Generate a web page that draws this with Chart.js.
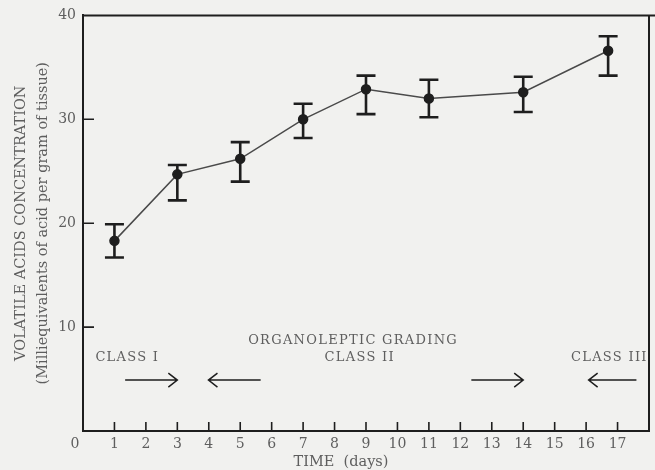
<!DOCTYPE html>
<html><head><meta charset="utf-8">
<script src="https://cdn.jsdelivr.net/npm/chart.js@4.4.0/dist/chart.umd.min.js"></script>
<style>html,body{margin:0;padding:0;background:#f1f1ef;}#wrap{width:655px;height:470px;position:relative;}</style>
</head><body><div id="wrap"><canvas id="c"></canvas></div>
<script>
// ---- data ----
const days = [1, 3, 5, 7, 9, 11, 14, 16.7];
const concentration = [18.3, 24.7, 26.2, 30.0, 32.9, 32.0, 32.6, 36.6];
const errorHigh = [19.9, 25.6, 27.8, 31.5, 34.2, 33.8, 34.1, 38.0];
const errorLow = [16.7, 22.2, 24.0, 28.2, 30.5, 30.2, 30.7, 34.2];
const xTickValues = [1, 2, 3, 4, 5, 6, 7, 8, 9, 10, 11, 12, 13, 14, 15, 16, 17];
const yTickValues = [10, 20, 30, 40];
const xTitle = 'TIME  (days)';
const yTitle = ['VOLATILE ACIDS CONCENTRATION', '(Milliequivalents of acid per gram of tissue)'];
const gradingTitle = 'ORGANOLEPTIC GRADING';
const classLabels = ['CLASS I', 'CLASS II', 'CLASS III'];
const classLabelX = [1.41, 8.80, 16.74];
const arrowFrom = [1.34, 5.65, 12.35, 17.6];
const arrowTo = [3.0, 3.99, 14.0, 16.08];

const SERIF = '"DejaVu Serif", "Liberation Serif", serif';
const TEXT = '#5e5e5e';
const INK = '#1e1e1e';

const extras = {
  id: 'extras',
  beforeDraw(chart) {
    const ctx = chart.ctx;
    ctx.save();
    ctx.fillStyle = '#f1f1ef';
    ctx.fillRect(0, 0, chart.width, chart.height);
    ctx.restore();
  },
  beforeDatasetsDraw(chart) {
    const ctx = chart.ctx, xs = chart.scales.x, ys = chart.scales.y;
    ctx.save();
    ctx.strokeStyle = INK;
    ctx.lineWidth = 2.6;
    days.forEach((d, i) => {
      const px = xs.getPixelForValue(d);
      const t = ys.getPixelForValue(errorHigh[i]);
      const b = ys.getPixelForValue(errorLow[i]);
      ctx.beginPath();
      ctx.moveTo(px, t); ctx.lineTo(px, b);
      ctx.moveTo(px - 9.5, t); ctx.lineTo(px + 9.5, t);
      ctx.moveTo(px - 9.5, b); ctx.lineTo(px + 9.5, b);
      ctx.stroke();
    });
    ctx.restore();
  },
  afterDraw(chart) {
    const ctx = chart.ctx, xs = chart.scales.x, ys = chart.scales.y;
    const a = chart.chartArea;
    ctx.save();
    // frame top and right
    ctx.strokeStyle = INK;
    ctx.lineWidth = 2;
    ctx.beginPath();
    ctx.moveTo(a.left, a.top); ctx.lineTo(chart.width, a.top);
    ctx.moveTo(a.right, a.top); ctx.lineTo(a.right, a.bottom);
    ctx.stroke();
    // inward tick marks
    ctx.lineWidth = 1.6;
    ctx.beginPath();
    xTickValues.forEach(v => {
      const px = xs.getPixelForValue(v);
      ctx.moveTo(px, a.bottom); ctx.lineTo(px, a.bottom - 9);
    });
    yTickValues.slice(0, -1).forEach(v => {
      const py = ys.getPixelForValue(v);
      ctx.moveTo(a.left, py); ctx.lineTo(a.left + 11, py);
    });
    ctx.stroke();
    // origin label and x title
    ctx.fillStyle = TEXT;
    ctx.textAlign = 'center';
    ctx.textBaseline = 'middle';
    ctx.font = '14px ' + SERIF;
    ctx.fillText('0', a.left - 8, a.bottom + 13);
    ctx.font = '14.5px ' + SERIF;
    ctx.fillText(xTitle, 341, 462);
    // annotations
    ctx.font = '13px ' + SERIF;
    ctx.letterSpacing = '1.3px';
    ctx.fillText(gradingTitle, xs.getPixelForValue(8.59), ys.getPixelForValue(8.74));
    classLabels.forEach((t, i) => {
      ctx.fillText(t, xs.getPixelForValue(classLabelX[i]), ys.getPixelForValue(7.05));
    });
    ctx.letterSpacing = '0px';
    // arrows
    ctx.strokeStyle = INK;
    ctx.lineWidth = 1.5;
    const ay = ys.getPixelForValue(4.9);
    arrowFrom.forEach((f, i) => {
      const x0 = xs.getPixelForValue(f), x1 = xs.getPixelForValue(arrowTo[i]);
      const dir = Math.sign(x1 - x0);
      ctx.beginPath();
      ctx.moveTo(x0, ay); ctx.lineTo(x1, ay);
      ctx.moveTo(x1 - dir * 9, ay - 7); ctx.lineTo(x1, ay); ctx.lineTo(x1 - dir * 9, ay + 7);
      ctx.stroke();
    });
    ctx.restore();
  }
};

new Chart(document.getElementById('c'), {
  type: 'line',
  data: {
    datasets: [{
      data: days.map((d, i) => ({ x: d, y: concentration[i] })),
      borderColor: '#4a4a4a',
      borderWidth: 1.5,
      pointRadius: 4.5,
      pointBackgroundColor: INK,
      pointBorderColor: INK,
      tension: 0
    }]
  },
  options: {
    responsive: true,
    maintainAspectRatio: false,
    animation: false,
    events: [],
    layout: { padding: { top: 14, right: 2, left: 0, bottom: 0 } },
    plugins: { legend: { display: false }, tooltip: { enabled: false } },
    scales: {
      x: {
        type: 'linear', min: 0, max: 18,
        afterBuildTicks: s => { s.ticks = xTickValues.map(v => ({ value: v })); },
        afterFit: s => { s.height = 39; },
        grid: { display: false, drawTicks: false, tickLength: 0 },
        border: { display: true, color: INK, width: 2 },
        ticks: { color: TEXT, font: { family: SERIF, size: 14 }, padding: 5, maxRotation: 0, autoSkip: false }
      },
      y: {
        type: 'linear', min: 0, max: 40,
        afterBuildTicks: s => { s.ticks = yTickValues.map(v => ({ value: v })); },
        afterFit: s => { s.width = 83; },
        grid: { display: false, drawTicks: false, tickLength: 0 },
        border: { display: true, color: INK, width: 2 },
        ticks: { color: TEXT, font: { family: SERIF, size: 14 }, padding: 7 },
        title: { display: true, text: yTitle, color: TEXT, font: { family: SERIF, size: 14.5, lineHeight: '22px' }, padding: { top: 10, bottom: 0 } }
      }
    }
  },
  plugins: [extras]
});
</script>
</body></html>
